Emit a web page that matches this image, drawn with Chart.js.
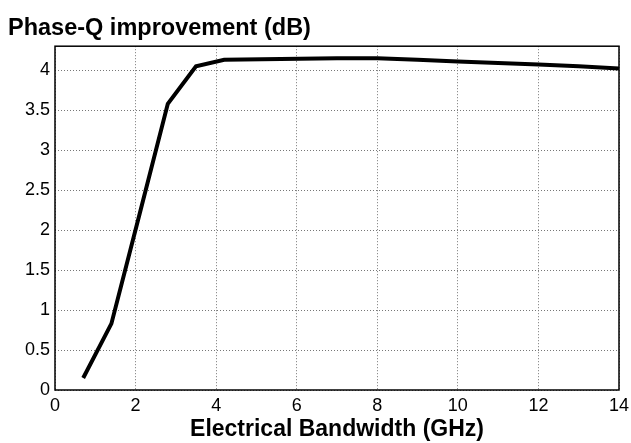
<!DOCTYPE html>
<html>
<head>
<meta charset="utf-8">
<script src="https://cdn.jsdelivr.net/npm/chart.js@4/dist/chart.umd.min.js"></script>
<style>
  html, body { margin: 0; padding: 0; background: #fff; }
  #wrap { width: 631px; height: 443px; }
</style>
</head>
<body>
<div id="wrap"><canvas id="chart" width="631" height="443"></canvas></div>
<script>
// Bandwidth (GHz) and improvement (dB)
const bandwidth = [0.7, 1.4, 2.1, 2.8, 3.5, 4.2, 5.6, 7, 8, 9, 10, 11, 12, 13, 14];
const improvement = [0.15, 0.83, 2.2, 3.58, 4.05, 4.13, 4.14, 4.15, 4.15, 4.13, 4.11, 4.09, 4.07, 4.05, 4.02];

const xTicks = [0, 2, 4, 6, 8, 10, 12, 14];
const yTicks = [0, 0.5, 1, 1.5, 2, 2.5, 3, 3.5, 4];

const points = bandwidth.map((b, i) => ({ x: b, y: improvement[i] }));

const fontFamily = "Liberation Sans, Arial, sans-serif";

// draw the full box around the plot area
const boxPlugin = {
  id: "box",
  afterDraw(chart) {
    const a = chart.chartArea;
    const ctx = chart.ctx;
    ctx.save();
    ctx.strokeStyle = "#000";
    ctx.lineWidth = 1.5;
    ctx.strokeRect(a.left, a.top, a.right - a.left, a.bottom - a.top);
    ctx.restore();
  }
};

const gridStyle = {
  color: "#777",
  lineWidth: 1,
  drawTicks: false
};

new Chart(document.getElementById("chart").getContext("2d"), {
  type: "line",
  data: {
    datasets: [{
      data: points,
      borderColor: "#000",
      borderWidth: 4,
      pointRadius: 0,
      tension: 0,
      fill: false
    }]
  },
  options: {
    responsive: false,
    animation: false,
    layout: { padding: { left: 8, right: 0, top: 4, bottom: 0 } },
    plugins: {
      legend: { display: false },
      tooltip: { enabled: false },
      title: {
        display: true,
        text: "Phase-Q improvement (dB)",
        align: "start",
        color: "#000",
        font: { family: fontFamily, size: 23.5, weight: "bold" },
        padding: { top: 10, bottom: 4 }
      }
    },
    scales: {
      x: {
        type: "linear",
        min: 0,
        max: 14,
        afterBuildTicks: s => { s.ticks = xTicks.map(v => ({ value: v })); },
        ticks: {
          color: "#000",
          padding: 5,
          font: { family: fontFamily, size: 18 },
          callback: v => String(v)
        },
        grid: gridStyle,
        border: { display: false, dash: [1, 2] },
        title: {
          display: true,
          text: "Electrical Bandwidth (GHz)",
          color: "#000",
          font: { family: fontFamily, size: 23, weight: "bold" },
          padding: { top: 0, bottom: 0 }
        },
        afterFit: s => { s.height = 53; s.paddingRight = 12; s.paddingLeft = 0; }
      },
      y: {
        type: "linear",
        min: 0,
        max: 4.3,
        afterBuildTicks: s => { s.ticks = yTicks.map(v => ({ value: v })); },
        ticks: {
          color: "#000",
          padding: 5,
          font: { family: fontFamily, size: 18 },
          callback: v => String(v)
        },
        grid: gridStyle,
        border: { display: false, dash: [1, 2] },
        afterFit: s => { s.width = 47; }
      }
    }
  },
  plugins: [boxPlugin]
});
</script>
</body>
</html>
